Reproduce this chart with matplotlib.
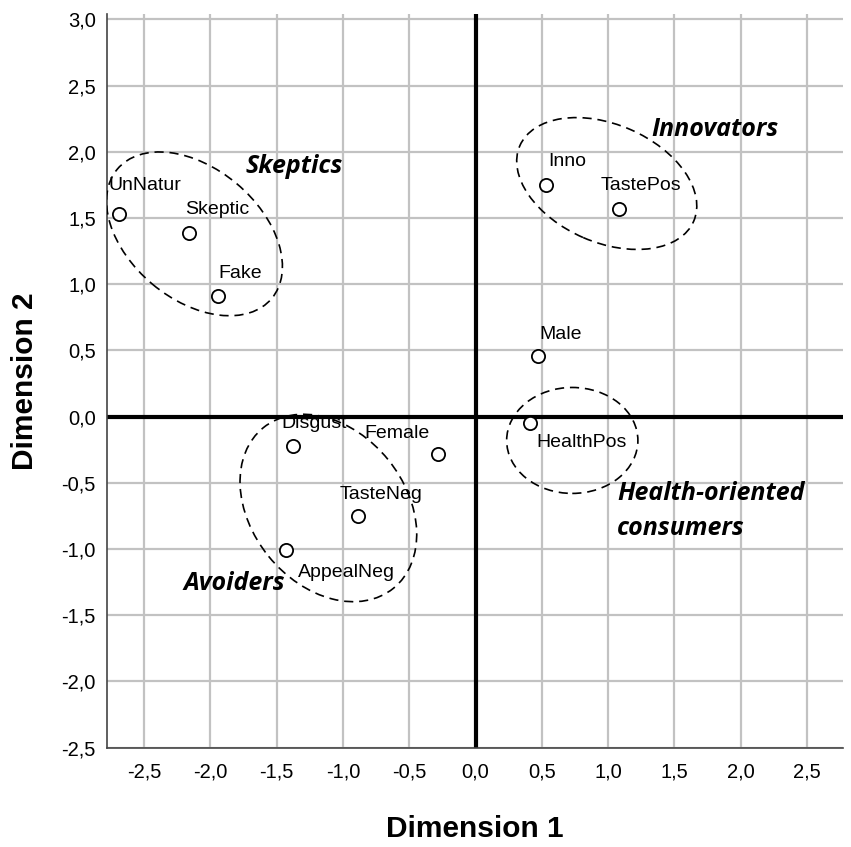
import numpy as np
import matplotlib.pyplot as plt
from matplotlib.patches import Ellipse

# Punkte (Dimension 1 / Dimension 2)
labels = ["UnNatur", "Skeptic", "Fake", "Inno", "TastePos", "Male",
          "HealthPos", "Female", "Disgust", "TasteNeg", "AppealNeg"]
dim1 = [-2.69, -2.16, -1.94, 0.53, 1.08, 0.47, 0.41, -0.28, -1.38, -0.89, -1.43]
dim2 = [1.53, 1.39, 0.91, 1.75, 1.57, 0.46, -0.05, -0.28, -0.22, -0.75, -1.01]

# Label-Versatz in Punkten
label_dx = [18.4, 20, 15.8, 15.8, 15.7, 16.4, 37.4, -29.5, 15.8, 16.6, 43.2]
label_dy = [20.6, 16.5, 16.3, 16.6, 17, 15.6, -13.9, 14.4, 15.8, 15.6, -15.6]

# Gruppen (Ellipsen)
group_names = ["Skeptics", "Innovators", "Health-oriented\nconsumers", "Avoiders"]
group_cx = [-2.12, 0.99, 0.73, -1.11]
group_cy = [1.38, 1.76, -0.18, -0.69]
group_w = [1.52, 1.43, 0.99, 1.56]
group_h = [0.99, 0.89, 0.80, 1.16]
group_ang = [-40, -23.5, 0, -51]
group_tx = [-1.37, 1.81, 1.07, -1.82]
group_ty = [1.89, 2.165, -0.712, -1.26]
group_ha = ["center", "center", "left", "center"]

fig = plt.figure(figsize=(8.51, 8.47), dpi=100)
ax = fig.add_axes([107 / 851, 1 - 747.7 / 847, 735.7 / 851, 733.7 / 847])

ax.set_xlim(-2.78, 2.77)
ax.set_ylim(-2.5, 3.04)

xt = np.round(np.arange(-2.5, 2.51, 0.5), 1)
yt = np.round(np.arange(-2.5, 3.01, 0.5), 1)
ax.set_xticks(xt)
ax.set_yticks(yt)
fmt = lambda v: f"{v:.1f}".replace(".", ",").replace("-0,0", "0,0")
ax.set_xticklabels([fmt(v) for v in xt], fontsize=14.5, family="Liberation Sans")
ax.set_yticklabels([fmt(v) for v in yt], fontsize=14.5, family="Liberation Sans")
ax.tick_params(length=0)
ax.tick_params(axis="x", pad=11)
ax.tick_params(axis="y", pad=8)

ax.grid(True, color="#c2c2c2", linewidth=1.6)
ax.set_axisbelow(True)
for s in ["top", "right"]:
    ax.spines[s].set_visible(False)
for s in ["left", "bottom"]:
    ax.spines[s].set_color("#444444")
    ax.spines[s].set_linewidth(1.2)

ax.axhline(0, color="black", linewidth=3, zorder=2)
ax.axvline(0, color="black", linewidth=3, zorder=2)

# Ellipsen
for cx, cy, w, h, a in zip(group_cx, group_cy, group_w, group_h, group_ang):
    ax.add_patch(Ellipse((cx, cy), w, h, angle=a, fill=False, edgecolor="black",
                         linewidth=1.2, linestyle=(0, (5.5, 3.5)), zorder=3))

ax.plot(dim1, dim2, "o", markersize=9.5, markerfacecolor="white",
        markeredgecolor="black", markeredgewidth=1.3, zorder=4)

for lab, x, y, dx, dy in zip(labels, dim1, dim2, label_dx, label_dy):
    ax.annotate(lab, (x, y), xytext=(dx, dy), textcoords="offset points",
                ha="center", va="center", fontsize=14, family="Liberation Sans",
                zorder=5)

for name, x, y, ha in zip(group_names, group_tx, group_ty, group_ha):
    ax.text(x, y, name, ha=ha, va="center", fontsize=18, family="Open Sans",
            fontweight="bold", fontstyle="italic", linespacing=1.55, zorder=5)

ax.set_xlabel("Dimension 1", fontsize=21.5, fontweight="bold", family="Liberation Sans",
              labelpad=24)
ax.set_ylabel("Dimension 2", fontsize=21.5, fontweight="bold", family="Liberation Sans",
              labelpad=16)

fig.savefig("out.png", dpi=100)
